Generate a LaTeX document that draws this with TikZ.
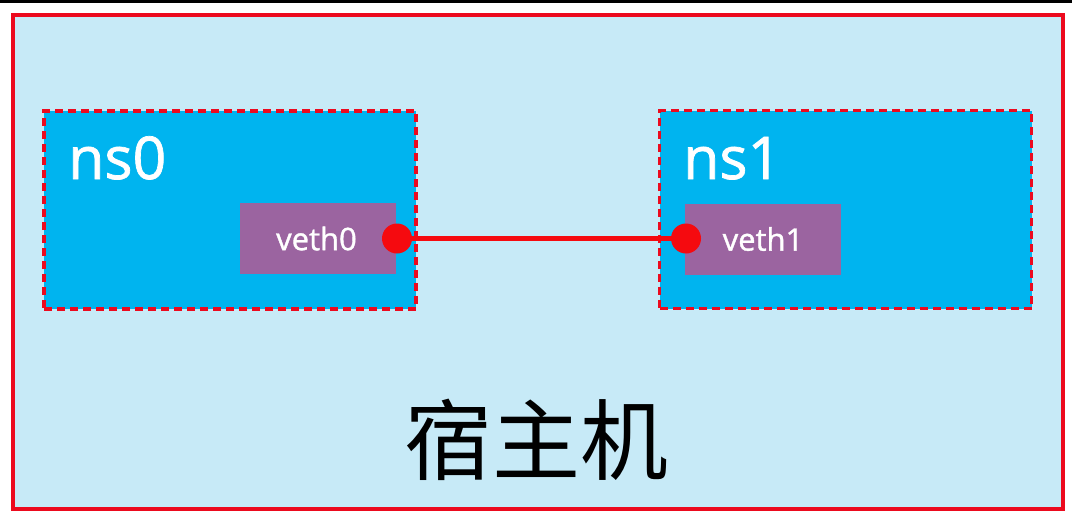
\documentclass[tikz,border=0pt]{standalone}
\usepackage{fontspec}
\setmainfont{Open Sans}
\newfontfamily\labelfont[FakeBold=1.2]{Open Sans}
\newfontfamily\cjk{Noto Sans CJK SC}
\definecolor{hostbg}{HTML}{C7EAF7}
\definecolor{nsbg}{HTML}{00B4EF}
\definecolor{vethbg}{HTML}{9B64A0}
\definecolor{redline}{HTML}{EC0A1E}
\definecolor{dotred}{HTML}{F50A0F}
\tikzset{
  hostbox/.style={draw=redline,fill=hostbg,line width=3.6pt,minimum width=1050pt,minimum height=494pt,inner sep=0pt},
  nsbox/.style={draw=redline,fill=nsbg,line width=3.6pt,dash pattern=on 8pt off 5pt,minimum width=372pt,minimum height=198pt,inner sep=0pt},
  vethbox/.style={fill=vethbg,minimum width=156pt,minimum height=71pt,inner sep=0pt,text=white,font=\labelfont\fontsize{31}{34}\selectfont},
  nslabel/.style={text=white,font=\labelfont\fontsize{59}{62}\selectfont,inner sep=0pt},
  vdot/.style={circle,fill=dotred,minimum size=30pt,inner sep=0pt},
  link/.style={draw=dotred,line width=4.5pt}
}
\begin{document}
\begin{tikzpicture}[x=1pt,y=-1pt]
\useasboundingbox (0,0) rectangle (1072,520);
\fill[white] (0,0) rectangle (1072,520);
\fill[black] (0,0) rectangle (1072,3);
\node[hostbox] (host) at (538,262) {};
\node[nsbox] (ns0) at (230,210) {};
\node[nsbox] (ns1) at (845.5,209.5) {};
\node[nslabel,anchor=base west] (ns0l) at (68,179) {ns0};
\node[nslabel,anchor=base west] (ns1l) at (683,179) {ns1};
\node[vethbox] (veth0) at (318,238.5) {\hspace*{-3pt}veth0};
\node[vethbox] (veth1) at (763,239) {veth1};
\draw[link] (397,238.5) -- (686,238.5);
\node[vdot] (d0) at (397,238.5) {};
\node[vdot] (d1) at (686,238.5) {};
\node[font=\cjk\fontsize{88}{90}\selectfont,inner sep=0pt] (hostl) at (536,440) {宿主机};
\end{tikzpicture}
\end{document}
